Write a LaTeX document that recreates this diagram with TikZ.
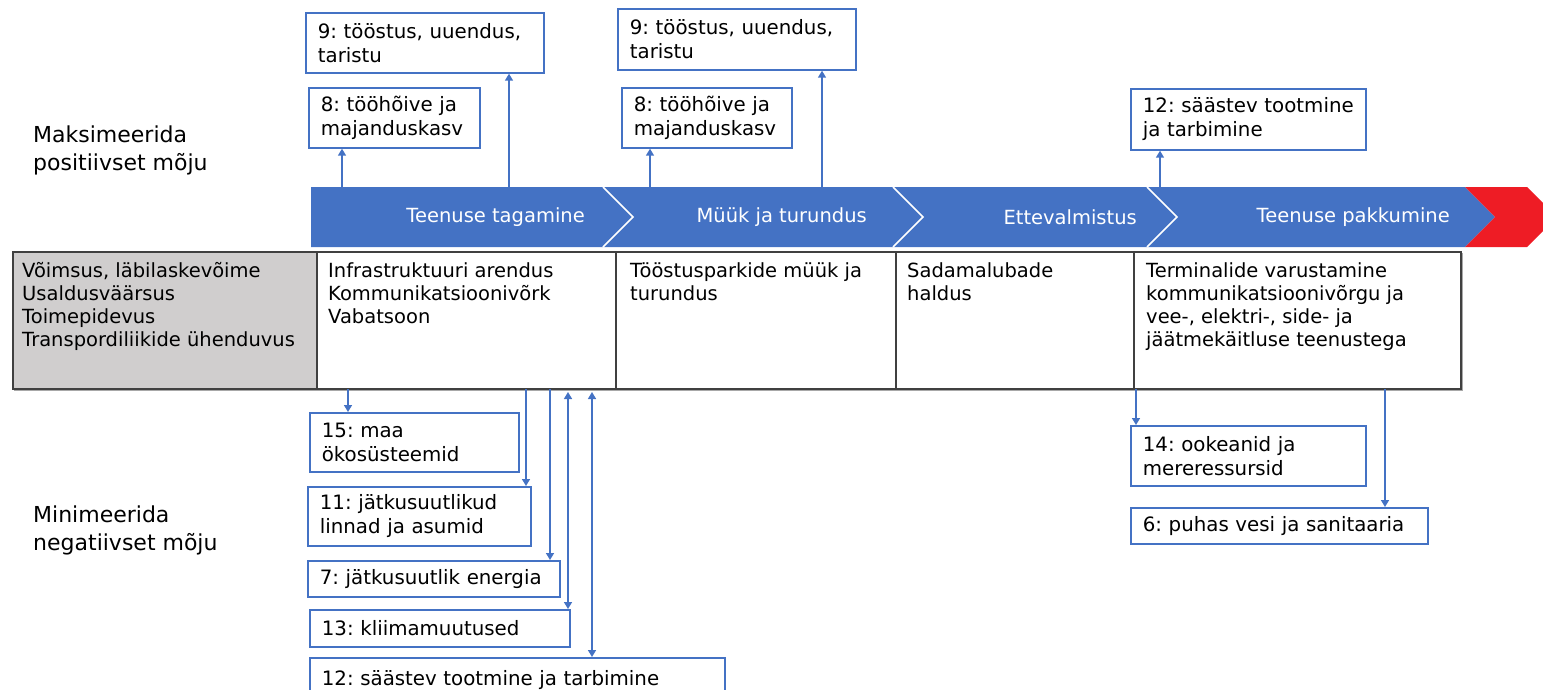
\documentclass[tikz,border=0pt]{standalone}
\usepackage{fontspec}
\setmainfont{DejaVu Sans}
\usetikzlibrary{arrows.meta,calc}
\definecolor{sdgblue}{HTML}{4472C4}
\definecolor{tipred}{HTML}{EE1C25}
\definecolor{cellgrey}{HTML}{D0CECE}
\definecolor{gridline}{HTML}{404040}
\definecolor{shadowgrey}{HTML}{A8A8A8}

% no hyphenation, plain spacing after colons
\newcommand{\plainset}{\frenchspacing\hyphenpenalty=10000\exhyphenpenalty=10000}

\begin{document}
\begin{tikzpicture}[x=1pt,y=-1pt,
  goal/.style={draw=sdgblue, line width=1.7pt, fill=white, anchor=north west,
    align=left, inner xsep=12pt, inner ysep=0pt,
    font=\fontsize{19.8}{24}\selectfont\plainset},
  cell/.style={draw=gridline, line width=1.5pt, anchor=north west,
    minimum height=137pt, inner sep=0pt},
  celltext/.style={anchor=north west, align=left, inner sep=0pt,
    font=\fontsize{19.5}{23}\selectfont\plainset},
  stage/.style={anchor=east, text=white, inner sep=0pt,
    font=\fontsize{19.5}{23}\selectfont},
  side/.style={anchor=north west, align=left, inner sep=0pt,
    font=\fontsize{22}{28.5}\selectfont},
  conn/.style={draw=sdgblue, line width=1.5pt, -{Triangle[length=7pt,width=8pt]}},
  conn2/.style={draw=sdgblue, line width=1.5pt,
    {Triangle[length=7pt,width=8pt]}-{Triangle[length=7pt,width=8pt]}},
  sep/.style={draw=white, line width=1.6pt}
]
\useasboundingbox (0,0) rectangle (1543,689);

% ---- value chain band ----
\fill[sdgblue] (311,187) -- (1465,187) -- (1495,217) -- (1465,247) -- (311,247) -- cycle;
\fill[tipred] (1465,187) -- (1527,187) -- (1557,217) -- (1527,247) -- (1465,247) -- (1495,217) -- cycle;
\foreach \sx in {603,893,1147}
  \draw[sep] (\sx,187) -- ({\sx+30},217) -- (\sx,247);

\node[stage] (st1) at (585,217) {Teenuse tagamine};
\node[stage] (st2) at (867,217) {Müük ja turundus};
\node[stage] (st3) at (1137,217) {Ettevalmistus};
\node[stage] (st4) at (1450,217) {Teenuse pakkumine};

% ---- activity table ----
\fill[shadowgrey] (14,253) rectangle (1463,391);
\node[cell, fill=cellgrey, minimum width=304pt] (c0) at (12,251) {};
\node[cell, fill=white, minimum width=299pt] (c1) at (316,251) {};
\node[cell, fill=white, minimum width=280pt] (c2) at (615,251) {};
\node[cell, fill=white, minimum width=238pt] (c3) at (895,251) {};
\node[cell, fill=white, minimum width=327pt] (c4) at (1133,251) {};

\node[celltext] (t0) at (22,261) {\rule{0pt}{16pt}Võimsus, läbilaskevõime\\Usaldusväärsus\\Toimepidevus\\Transpordiliikide ühenduvus};
\node[celltext] (t1) at (328,261) {\rule{0pt}{16pt}Infrastruktuuri arendus\\Kommunikatsioonivõrk\\Vabatsoon};
\node[celltext] (t2) at (630,261) {\rule{0pt}{16pt}Tööstusparkide müük ja\\turundus};
\node[celltext] (t3) at (907,261) {\rule{0pt}{16pt}Sadamalubade\\haldus};
\node[celltext] (t4) at (1146,261) {\rule{0pt}{16pt}Terminalide varustamine\\kommunikatsioonivõrgu ja\\vee-, elektri-, side- ja\\jäätmekäitluse teenustega};

% ---- row captions ----
\node[side] (maxi) at (33,125) {\rule{0pt}{17pt}Maksimeerida\\positiivset mõju};
\node[side] (mini) at (33,505) {\rule{0pt}{17pt}Minimeerida\\negatiivset mõju};

% ---- goals reinforced above the chain ----
\node[goal, text width=214pt, minimum height=60pt] (g9a) at (305,12) {9: tööstus, uuendus,\\taristu};
\node[goal, text width=147pt, minimum height=60pt] (g8a) at (308,87) {8: tööhõive ja\\majanduskasv};
\node[goal, text width=214pt, minimum height=61pt] (g9b) at (617,8) {9: tööstus, uuendus,\\taristu};
\node[goal, text width=146pt, minimum height=60pt] (g8b) at (621,87) {8: tööhõive ja\\majanduskasv};
\node[goal, text width=211pt, minimum height=61pt] (g12a) at (1130,88) {12: säästev tootmine\\ja tarbimine};

\coordinate (u1) at (342,187);
\coordinate (u2) at (509,187);
\coordinate (u3) at (650,187);
\coordinate (u4) at (822,187);
\coordinate (u5) at (1160,187);
\draw[conn] (u1) -- (u1 |- g8a.south);
\draw[conn] (u2) -- (u2 |- g9a.south);
\draw[conn] (u3) -- (u3 |- g8b.south);
\draw[conn] (u4) -- (u4 |- g9b.south);
\draw[conn] (u5) -- (u5 |- g12a.south);

% ---- goals affected below the chain ----
\node[goal, text width=185pt, minimum height=59pt] (g15) at (309,412) {15: maa\\ökosüsteemid};
\node[goal, text width=199pt, minimum height=59pt] (g11) at (307,486) {11: jätkusuutlikud\\linnad ja asumid};
\node[goal, text width=228pt, minimum height=36pt] (g7) at (307,560) {7: jätkusuutlik energia};
\node[goal, text width=236pt, minimum height=37pt] (g13) at (309,609) {13: kliimamuutused};
\node[goal, text width=391pt, minimum height=45pt] (g12b) at (309,657) {12: säästev tootmine ja tarbimine};
\node[goal, text width=211pt, minimum height=60pt] (g14) at (1130,425) {14: ookeanid ja\\mereressursid};
\node[goal, text width=273pt, minimum height=36pt] (g6) at (1130,507) {6: puhas vesi ja sanitaaria};

\coordinate (d1) at (348,389);
\coordinate (d2) at (526,389);
\coordinate (d3) at (550,389);
\coordinate (d4) at (568,389);
\coordinate (d5) at (592,389);
\coordinate (d6) at (1136,389);
\coordinate (d7) at (1385,389);
\draw[conn] (d1) -- (d1 |- g15.north);
\draw[conn] (d2) -- (d2 |- g11.north);
\draw[conn] (d3) -- (d3 |- g7.north);
\draw[conn2, shorten <=3pt] (d4) -- (d4 |- g13.north);
\draw[conn2, shorten <=3pt] (d5) -- (d5 |- g12b.north);
\draw[conn] (d6) -- (d6 |- g14.north);
\draw[conn] (d7) -- (d7 |- g6.north);
\end{tikzpicture}
\end{document}
